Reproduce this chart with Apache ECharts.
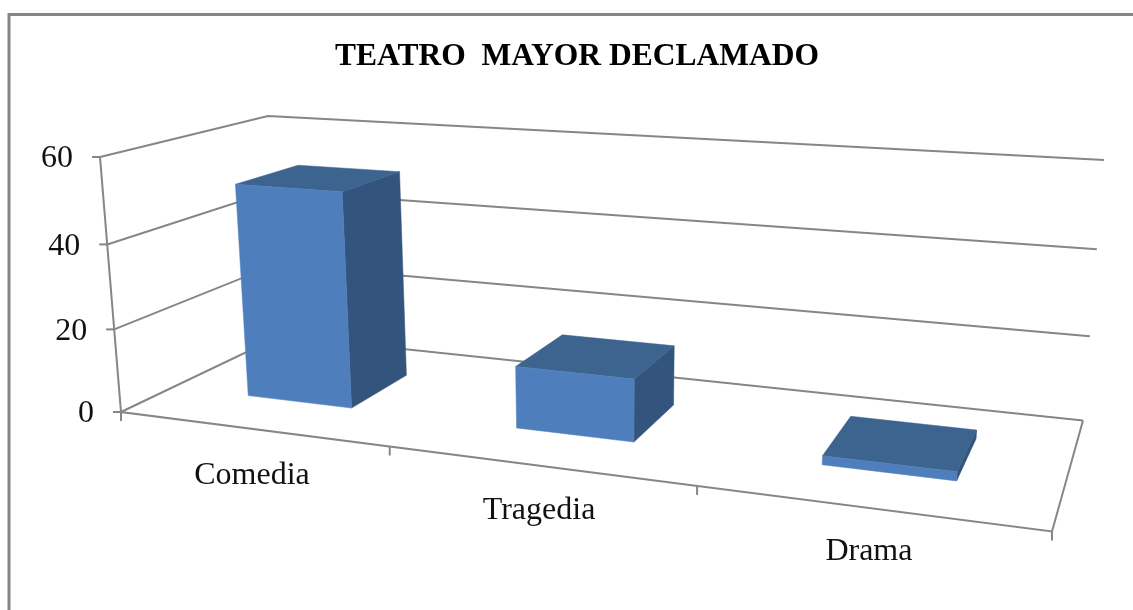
<!DOCTYPE html>
<html>
<head>
<meta charset="utf-8">
<title>Teatro mayor declamado</title>
<script src="https://cdn.jsdelivr.net/npm/echarts@6/dist/echarts.min.js"></script>
<style>
  html, body { margin: 0; padding: 0; background: #fff; }
  #chart { width: 1133px; height: 610px; }
</style>
</head>
<body>
<div id="chart"></div>
<script>
const titleText = 'TEATRO  MAYOR DECLAMADO'
const categories = ['Comedia', 'Tragedia', 'Drama']
const values = [51.5, 14.5, 2]
const yTicks = [0, 20, 40, 60]

const lineColor = '#868686'
const textColor = '#111'
const serif = '"Liberation Serif", serif'
const faceColors = { front: '#4e7fbc', side: '#32547d', top: '#3d638f' }

// Excel style 3D box: floor corners on screen, then where the verticals converge
const floor = { fl: [121, 412], fr: [1052, 531.5], br: [1083, 420.5], bl: [280, 336] }
const vanish = [607, 6313]
const heightScale = -0.04142
const barWidth = 0.4 // share of a category, gap width 150%
const barDepth = [0.3, 0.7]

const makeHomography = ({ fl, fr, br, bl }) => {
  const dx1 = fr[0] - br[0], dx2 = bl[0] - br[0], dx3 = fl[0] - fr[0] + br[0] - bl[0]
  const dy1 = fr[1] - br[1], dy2 = bl[1] - br[1], dy3 = fl[1] - fr[1] + br[1] - bl[1]
  const det = dx1 * dy2 - dx2 * dy1
  const g = (dx3 * dy2 - dx2 * dy3) / det
  const h = (dx1 * dy3 - dx3 * dy1) / det
  return {
    a: fr[0] - fl[0] + g * fr[0], b: bl[0] - fl[0] + h * bl[0], c: fl[0],
    d: fr[1] - fl[1] + g * fr[1], e: bl[1] - fl[1] + h * bl[1], f: fl[1],
    g, h
  }
}
const H = makeHomography(floor)

// u along categories, v into the depth, z up, all 0..1
const project = (u, v, z) => {
  const t = z * heightScale
  const x = H.a * u + H.b * v + H.c + t * vanish[0]
  const y = H.d * u + H.e * v + H.f + t * vanish[1]
  const w = H.g * u + H.h * v + 1 + t
  return [x / w, y / w]
}

// turn a pixel of the hidden grid into box coordinates
const toBox = (params, px) => {
  const cs = params.coordSys
  return [(px[0] - cs.x) / cs.width, (cs.y + cs.height - px[1]) / cs.height]
}

const line = (points, z2) => ({
  type: 'polyline',
  shape: { points },
  style: { stroke: lineColor, lineWidth: 2, fill: null },
  z2: z2 || 1
})

const label = (text, x, y, fontSize, align) => ({
  type: 'text',
  style: { text, x, y, fill: textColor, fontFamily: serif, fontSize, align, verticalAlign: 'middle' }
})

const renderValueTick = (params, api) => {
  const [, z] = toBox(params, api.coord([0, api.value(0)]))
  const front = project(0, 0, z)
  return {
    type: 'group',
    children: [
      line([front, project(0, 1, z), project(1, 1, z)]),
      line([[front[0] - 8, front[1]], front]),
      label(String(api.value(0)), front[0] - 27, front[1] + 2, 32, 'right')
    ]
  }
}

const renderFrame = () => ({
  type: 'group',
  children: [
    line([project(0, 0, 1), project(0, 0, 0), project(1, 0, 0), project(1, 1, 0)])
  ].concat([0, 1, 2, 3].map(i => {
    const p = project(i / 3, 0, 0)
    return line([p, [p[0], p[1] + 9]])
  }))
})

const renderCategory = (params, api) => {
  const [u] = toBox(params, api.coord([api.value(0), 0]))
  const p = project(u, 0, 0)
  return label(categories[api.value(0)], p[0] + 1, p[1] + 47.5 - 4 * u, 32, 'center')
}

const renderBar = (params, api) => {
  const top = api.coord([api.value(0), api.value(1)])
  const half = api.size([1, 0])[0] * barWidth / 2
  const [u0, z] = toBox(params, [top[0] - half, top[1]])
  const [u1] = toBox(params, [top[0] + half, top[1]])
  const [v0, v1] = barDepth
  const face = (points, fill) => ({
    type: 'polygon',
    shape: { points },
    style: { fill, stroke: fill, lineWidth: 0.5 }
  })
  return {
    type: 'group',
    children: [
      face([project(u1, v0, 0), project(u1, v1, 0), project(u1, v1, z), project(u1, v0, z)], faceColors.side),
      face([project(u0, v0, z), project(u1, v0, z), project(u1, v1, z), project(u0, v1, z)], faceColors.top),
      face([project(u0, v0, 0), project(u1, v0, 0), project(u1, v0, z), project(u0, v0, z)], faceColors.front)
    ]
  }
}

const chart = echarts.init(document.getElementById('chart'), null, { renderer: 'canvas' })

chart.setOption({
  animation: false,
  backgroundColor: '#fff',
  title: {
    text: titleText,
    left: 572,
    top: 36,
    textAlign: 'center',
    textStyle: { fontFamily: serif, fontSize: 31.5, fontWeight: 'bold', color: '#000' }
  },
  grid: { left: 0, right: 0, top: 0, bottom: 0 },
  xAxis: { type: 'category', data: categories, show: false },
  yAxis: { type: 'value', min: 0, max: 60, interval: 20, show: false },
  graphic: [{
    type: 'rect',
    shape: { x: 9, y: 14.5, width: 1300, height: 800 },
    style: { fill: null, stroke: lineColor, lineWidth: 3 },
    silent: true
  }],
  series: [
    { type: 'custom', coordinateSystem: 'cartesian2d', data: yTicks.map(t => [t]), encode: { y: 0 }, renderItem: renderValueTick, clip: false, silent: true, z: 1 },
    { type: 'custom', coordinateSystem: 'cartesian2d', data: [[0]], renderItem: renderFrame, clip: false, silent: true, z: 2 },
    { type: 'custom', coordinateSystem: 'cartesian2d', data: categories.map((c, i) => [i]), encode: { x: 0 }, renderItem: renderCategory, clip: false, silent: true, z: 3 },
    { type: 'custom', coordinateSystem: 'cartesian2d', data: values.map((v, i) => [i, v]), encode: { x: 0, y: 1 }, renderItem: renderBar, clip: false, silent: true, z: 4 }
  ]
})
</script>
</body>
</html>
